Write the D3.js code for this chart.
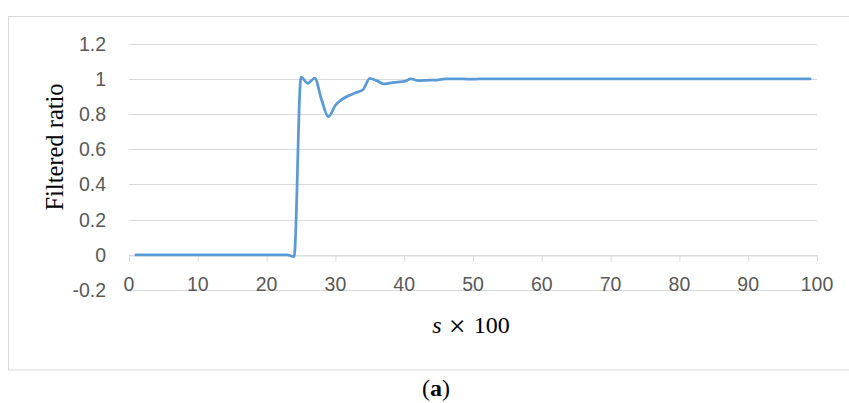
<!DOCTYPE html>
<html>
<head>
<meta charset="utf-8">
<script src="https://cdn.jsdelivr.net/npm/d3@7"></script>
<style>
  body { margin: 0; background: #fff; }
  svg { display: block; }
  .tick-label { font-family: "Liberation Sans", Arial, sans-serif; font-size: 19.5px; fill: #595959; }
  .serif { font-family: "Liberation Serif", "Times New Roman", serif; fill: #000; }
</style>
</head>
<body>
<div id="chart"></div>
<script>
// filtered ratio for s x 100 = 1 .. 99
const ratio = [
    0, 0, 0, 0, 0, 0, 0, 0, 0, 0,
    0, 0, 0, 0, 0, 0, 0, 0, 0, 0,
    0, 0, 0, -0.01, 1.01, 0.975, 1.005, 0.88, 0.785, 0.85,
    0.885, 0.905, 0.922, 0.938, 1.003, 0.99, 0.972, 0.977, 0.982, 0.986,
    1.0, 0.99, 0.991, 0.993, 0.995, 1.0, 1.0, 1.0, 0.999, 0.998,
    1.0, 1.0, 1.0, 1.0, 1.0, 1.0, 1.0, 1.0, 1.0, 1.0,
    1.0, 1.0, 1.0, 1.0, 1.0, 1.0, 1.0, 1.0, 1.0, 1.0,
    1.0, 1.0, 1.0, 1.0, 1.0, 1.0, 1.0, 1.0, 1.0, 1.0,
    1.0, 1.0, 1.0, 1.0, 1.0, 1.0, 1.0, 1.0, 1.0, 1.0,
    1.0, 1.0, 1.0, 1.0, 1.0, 1.0, 1.0, 1.0, 1.0
];
const xTicks = [0, 10, 20, 30, 40, 50, 60, 70, 80, 90, 100];
const yTicks = [-0.2, 0, 0.2, 0.4, 0.6, 0.8, 1, 1.2];

const width = 849, height = 403;

let svg = d3.select("#chart").append("svg")
    .attr("width", width)
    .attr("height", height);

// outer chart frame
svg.append("rect")
    .attr("x", 8.5).attr("y", 16.5)
    .attr("width", 850).attr("height", 353.5)
    .attr("fill", "none")
    .attr("stroke", "#d9d9d9");

let x = d3.scaleLinear().domain([0, 100]).range([129, 817]);
let y = d3.scaleLinear().domain([-0.2, 1.2]).range([290, 43.7]);

// horizontal gridlines
svg.append("g")
    .selectAll("line")
    .data(yTicks)
    .enter().append("line")
    .attr("x1", x(0)).attr("x2", x(100))
    .attr("y1", d => Math.round(y(d)) + 0.5)
    .attr("y2", d => Math.round(y(d)) + 0.5)
    .attr("stroke", "#d9d9d9")
    .attr("stroke-width", 1);

// x axis crosses at 0, ticks pointing down
let xAxis = d3.axisBottom(x).tickValues(xTicks).tickSize(6).tickFormat(d3.format("d"));
let gx = svg.append("g")
    .attr("transform", `translate(0,${Math.round(y(0)) + 0.5})`)
    .call(xAxis);
gx.select(".domain").attr("stroke", "#d9d9d9");
gx.selectAll(".tick line").attr("stroke", "#d9d9d9");
gx.selectAll(".tick text").remove();

svg.append("g")
    .selectAll("text")
    .data(xTicks)
    .enter().append("text")
    .attr("class", "tick-label")
    .attr("x", d => x(d))
    .attr("y", 291)
    .attr("text-anchor", "middle")
    .text(d => d);

// excel style labels, plain hyphen for the minus
svg.append("g")
    .selectAll("text")
    .data(yTicks)
    .enter().append("text")
    .attr("class", "tick-label")
    .attr("x", 106)
    .attr("y", d => y(d))
    .attr("dy", "0.36em")
    .attr("text-anchor", "end")
    .text(d => String(d));

// the series
let line = d3.line()
    .x((d, i) => x(i + 1))
    .y(d => y(d))
    .curve(d3.curveMonotoneX);

svg.append("path")
    .datum(ratio)
    .attr("d", line)
    .attr("fill", "none")
    .attr("stroke", "#5b9bd5")
    .attr("stroke-width", 2.75)
    .attr("stroke-linejoin", "round")
    .attr("stroke-linecap", "round");

// axis titles
svg.append("text")
    .attr("class", "serif")
    .attr("transform", "translate(63,147) rotate(-90)")
    .attr("text-anchor", "middle")
    .style("font-size", "24.5px")
    .text("Filtered ratio");

let xt = svg.append("text")
    .attr("class", "serif")
    .attr("x", 471).attr("y", 333)
    .attr("text-anchor", "middle")
    .style("font-size", "24px");
xt.append("tspan").style("font-style", "italic").text("s");
xt.append("tspan").attr("dx", 7).attr("dy", 3).style("font-size", "30px").text("\u00d7");
xt.append("tspan").attr("dx", 8).attr("dy", -3).text("100");

let cap = svg.append("text")
    .attr("class", "serif")
    .attr("x", 436).attr("y", 396)
    .attr("text-anchor", "middle")
    .style("font-size", "24px");
cap.append("tspan").text("(");
cap.append("tspan").style("font-weight", "bold").text("a");
cap.append("tspan").text(")");
</script>
</body>
</html>
